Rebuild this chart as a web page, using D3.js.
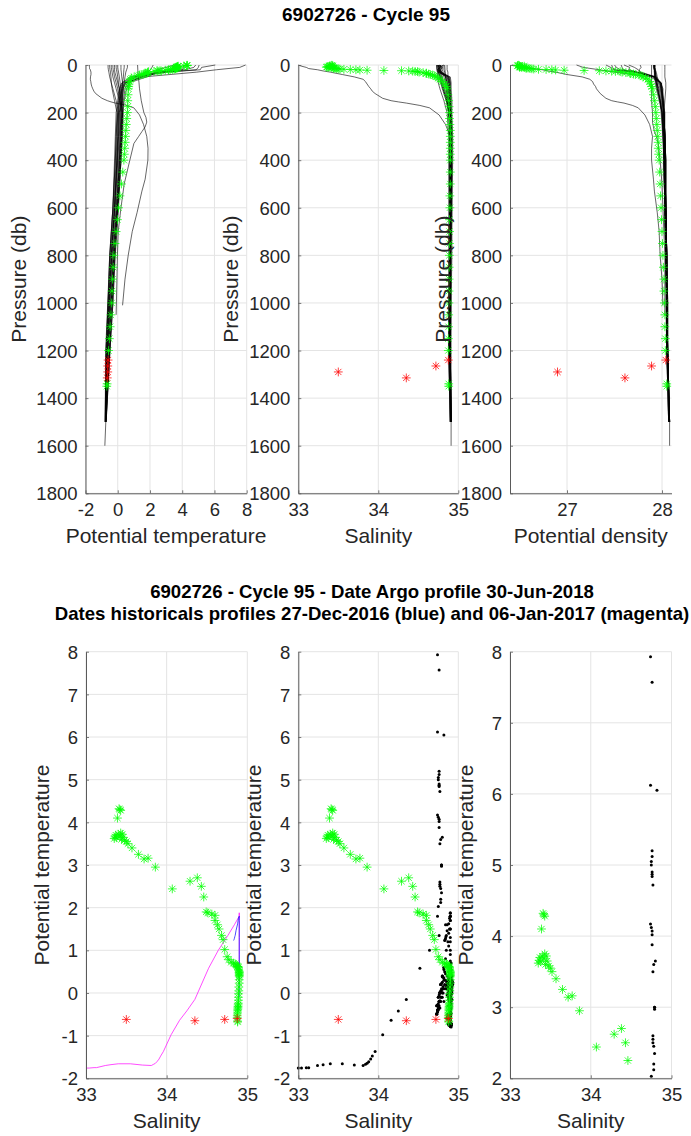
<!DOCTYPE html>
<html><head><meta charset="utf-8">
<script src="https://cdn.jsdelivr.net/npm/d3@7"></script>
<style>
html,body{margin:0;padding:0;background:#fff;}
svg{display:block;font-family:"Liberation Sans",Arial,Helvetica,sans-serif;}
</style></head><body>
<svg id="chart" width="691" height="1136"></svg>
<script>
// ---------------- DATA ----------------
const titleTop = "6902726 - Cycle 95";
const titleBottom = ["6902726 - Cycle 95 - Date Argo profile 30-Jun-2018",
  "Dates historicals profiles 27-Dec-2016 (blue) and 06-Jan-2017 (magenta)"];

const tempTicks = [-2, 0, 2, 4, 6, 8];
const salTicks = [33, 34, 35];
const densTicks = [27, 28];
const presTicks = [0, 200, 400, 600, 800, 1000, 1200, 1400, 1600, 1800];
const thetaTicks = [-2, -1, 0, 1, 2, 3, 4, 5, 6, 7, 8];
const thetaZoomTicks = [2, 3, 4, 5, 6, 7, 8];

// Argo profile (green), pressure in db
const argoPres = [1,2,3,4,5,6,7,8,9,10,11,12,13,14,15,16,17,18,19,20,21,22,23,24,25,26,27,28,
  30,32,34,36,38,40,42,45,50,55,60,70,80,90,100,
  125,150,175,200,225,250,275,300,325,350,375,400,
  450,500,550,600,650,700,750,800,850,900,950,1000,1050,1100,1150,1200,1340,1350];
const argoTheta = [4.30,4.32,4.28,4.10,3.75,3.72,3.70,3.66,3.62,3.64,3.68,3.72,3.65,3.60,3.58,3.55,3.50,3.40,3.25,3.14,3.16,2.95,2.44,2.62,2.70,2.50,2.25,1.90,
  1.88,1.85,1.82,1.70,1.60,1.50,1.35,1.25,1.02,0.85,0.78,0.72,0.70,0.68,0.66,
  0.64,0.62,0.62,0.60,0.56,0.53,0.50,0.48,0.46,0.43,0.41,0.38,
  0.31,0.23,0.14,0.05,-0.02,-0.10,-0.17,-0.24,-0.28,-0.32,-0.35,-0.38,-0.42,-0.47,-0.52,-0.57,-0.66,-0.68];
const argoSal = [33.42,33.41,33.43,33.39,33.43,33.40,33.37,33.36,33.35,33.38,33.42,33.45,33.46,33.44,33.48,33.50,33.52,33.57,33.65,33.72,33.77,33.86,34.07,34.29,34.38,34.43,34.46,34.49,
  34.51,34.56,34.60,34.60,34.63,34.65,34.68,34.70,34.72,34.75,34.77,34.80,34.83,34.85,34.86,
  34.87,34.88,34.885,34.89,34.89,34.895,34.9,34.9,34.9,34.9,34.9,34.9,
  34.9,34.9,34.895,34.895,34.89,34.89,34.89,34.888,34.886,34.885,34.884,34.882,34.88,34.878,34.876,34.875,34.88,34.88];
const argoDens = [26.49,26.48,26.50,26.48,26.55,26.53,26.51,26.50,26.50,26.52,26.55,26.57,26.59,26.57,26.61,26.63,26.65,26.70,26.78,26.84,26.88,26.97,27.18,27.34,27.41,27.47,27.51,27.56,
  27.58,27.62,27.66,27.67,27.70,27.72,27.76,27.78,27.80,27.83,27.85,27.87,27.88,27.89,27.90,
  27.91,27.92,27.93,27.935,27.94,27.945,27.95,27.955,27.96,27.96,27.965,27.97,
  27.975,27.98,27.985,27.99,27.995,28.0,28.005,28.01,28.015,28.02,28.02,28.025,28.03,28.03,28.035,28.035,28.05,28.05];

// Flagged Argo points (red)
const flagPres = [1240, 1265, 1290, 1315];
const flagTheta = [-0.60, -0.62, -0.62, -0.65];
const flagSal = [34.875, 34.72, 33.50, 34.35];
const flagDens = [28.04, 27.89, 26.90, 27.61];

// Historical profiles (black), values at standard levels
const histLevels = [0,10,20,30,50,75,100,150,200,300,400,600,800,1000,1200,1500,1600];
const histTheta = [
  [7.93,7.57,6.12,4.9,1.6,0.5,0.35,0.25,0.15,0.1,0.0,-0.15,-0.35,-0.5,-0.62,-0.75],
  [6.05,5.2,5.12,3.0,1.2,0.4,0.2,0.1,0.05,0.0,-0.05,-0.2,-0.38,-0.52,-0.64,-0.76],
  [5.05,5.0,4.87,2.97,1.0,0.3,0.15,0.05,0.0,-0.05,-0.1,-0.25,-0.45,-0.58,-0.7,-0.77],
  [4.84,4.72,4.17,2.6,0.8,0.25,0.1,0.0,-0.1,-0.15,-0.2,-0.3,-0.5,-0.62,-0.75,-0.78],
  [4.12,4.07,4.02,2.55,1.4,0.6,0.45,0.35,0.3,0.25,0.15,0.0,-0.2,-0.35,-0.5,-0.73],
  [3.88,3.65,3.6,2.5,1.8,0.7,0.55,0.4,0.3,0.25,0.2,0.05,-0.15,-0.3,-0.48,-0.72],
  [3.5,3.0,2.45,2.35,1.5,0.5,0.3,0.2,0.1,0.05,-0.02,-0.18,-0.38,-0.5,-0.64,-0.75],
  [2.2,2.12,2.03,1.8,1.1,0.45,0.25,0.1,0.0,-0.1,-0.15,-0.3,-0.48,-0.6,-0.72,-0.78],
  [-0.4,-0.4,-0.38,-0.35,-0.3,-0.2,-0.1,0.1,0.2,0.15,0.1,-0.05,-0.25,-0.4,-0.55,-0.74],
  [-0.2,-0.2,-0.2,-0.18,-0.1,0.0,0.1,0.2,0.3,0.25,0.2,0.0,-0.2,-0.35,-0.5,-0.73],
  [0.0,0.0,0.02,0.05,0.1,0.15,0.2,0.3,0.35,0.3,0.2,0.02,-0.18,-0.3,-0.48,-0.72],
  [0.2,0.2,0.2,0.22,0.25,0.3,0.3,0.25,0.2,0.15,0.05,-0.1,-0.3,-0.45,-0.6,-0.75],
  [0.4,0.4,0.38,0.37,0.35,0.3,0.25,0.2,0.1,0.05,-0.05,-0.2,-0.4,-0.55,-0.65,-0.75],
  [0.6,0.6,0.55,0.5,0.45,0.4,0.35,0.3,0.25,0.2,0.1,-0.05,-0.25,-0.4,-0.55,-0.74,-0.8],
  [-0.3,-0.3,-0.28,-0.25,-0.2,-0.1,0.0,0.15,0.25,0.2,0.12,-0.08,-0.28,-0.42,-0.58],
  [-0.1,-0.1,-0.08,-0.05,0.0,0.05,0.1,0.2,0.28,0.22,0.15,-0.02,-0.22,-0.38],
  [-0.5,-0.5,-0.48,-0.45,-0.42,-0.4,-0.35,-0.2,-0.05,-0.1,-0.15,-0.3,-0.5,-0.6,-0.72,-0.78],
  [-0.6,-0.6,-0.58,-0.55,-0.5,-0.4,-0.3,-0.1,0.05,0.0,-0.05,-0.2,-0.4,-0.55,-0.68,-0.76]
];
const histSal = [
  [34.74,34.76,34.74,34.76,34.86,34.88,34.89,34.9,34.9,34.91,34.91,34.91,34.9,34.9,34.9,34.91],
  [34.82,34.76,34.76,34.79,34.87,34.88,34.88,34.89,34.9,34.9,34.9,34.9,34.9,34.89,34.89,34.91],
  [34.75,34.75,34.76,34.79,34.85,34.87,34.87,34.88,34.89,34.9,34.9,34.9,34.89,34.89,34.89,34.9],
  [34.76,34.77,34.74,34.77,34.84,34.86,34.86,34.87,34.88,34.89,34.89,34.89,34.89,34.88,34.88,34.9],
  [34.75,34.76,34.76,34.77,34.88,34.9,34.9,34.91,34.91,34.92,34.92,34.92,34.91,34.91,34.9,34.91],
  [34.76,34.8,34.78,34.77,34.9,34.91,34.91,34.92,34.92,34.93,34.93,34.92,34.92,34.91,34.91,34.91],
  [34.77,34.79,34.78,34.79,34.89,34.9,34.9,34.9,34.91,34.91,34.91,34.9,34.9,34.9,34.9,34.91],
  [34.78,34.78,34.75,34.74,34.88,34.89,34.88,34.89,34.89,34.9,34.9,34.89,34.89,34.89,34.88,34.9],
  [34.74,34.74,34.75,34.75,34.76,34.78,34.8,34.85,34.88,34.9,34.9,34.9,34.9,34.9,34.9,34.91],
  [34.76,34.76,34.76,34.77,34.78,34.8,34.82,34.86,34.89,34.9,34.91,34.91,34.9,34.9,34.9,34.91],
  [34.77,34.77,34.77,34.78,34.79,34.81,34.83,34.87,34.9,34.91,34.91,34.91,34.9,34.9,34.9,34.91],
  [34.78,34.78,34.78,34.79,34.8,34.82,34.85,34.88,34.9,34.9,34.9,34.9,34.9,34.9,34.89,34.91],
  [34.8,34.8,34.8,34.81,34.82,34.84,34.86,34.88,34.89,34.9,34.9,34.9,34.9,34.89,34.89,34.91],
  [34.82,34.82,34.82,34.83,34.84,34.86,34.88,34.9,34.91,34.92,34.92,34.91,34.91,34.9,34.9,34.91,34.91],
  [34.73,34.73,34.74,34.75,34.77,34.79,34.81,34.85,34.88,34.9,34.9,34.9,34.9,34.9,34.89],
  [34.75,34.75,34.76,34.76,34.77,34.79,34.81,34.86,34.89,34.9,34.91,34.91,34.9,34.9],
  [34.73,34.73,34.73,34.74,34.74,34.75,34.77,34.82,34.86,34.88,34.88,34.88,34.88,34.88,34.88,34.9],
  [34.86,34.86,34.86,34.87,34.87,34.89,34.89,34.9,34.9,34.9,34.9,34.9,34.9,34.89,34.89,34.9]
];
const histDens = [
  [27.10,27.17,27.34,27.50,27.88,27.98,28.00,28.01,28.02,28.03,28.03,28.04,28.05,28.06,28.06,28.08],
  [27.41,27.46,27.47,27.71,27.92,27.99,28.00,28.01,28.02,28.03,28.03,28.04,28.05,28.05,28.06,28.08],
  [27.47,27.48,27.50,27.71,27.92,27.98,27.99,28.01,28.02,28.03,28.03,28.04,28.05,28.05,28.06,28.07],
  [27.50,27.52,27.56,27.73,27.93,27.98,27.99,28.00,28.02,28.03,28.03,28.04,28.05,28.05,28.05,28.07],
  [27.57,27.58,27.59,27.73,27.91,27.99,28.00,28.01,28.02,28.03,28.03,28.04,28.05,28.06,28.06,28.08],
  [27.60,27.66,27.65,27.74,27.90,27.99,28.00,28.02,28.02,28.03,28.04,28.04,28.05,28.05,28.06,28.08],
  [27.65,27.71,27.75,27.77,27.92,27.99,28.01,28.01,28.03,28.03,28.04,28.04,28.05,28.06,28.06,28.08],
  [27.77,27.78,27.76,27.77,27.94,27.99,27.99,28.01,28.02,28.03,28.04,28.04,28.05,28.05,28.05,28.07],
  [27.92,27.92,27.93,27.93,27.93,27.94,27.95,27.98,28.00,28.02,28.02,28.03,28.04,28.05,28.06,28.08],
  [27.93,27.93,27.93,27.93,27.94,27.95,27.96,27.98,28.00,28.01,28.02,28.03,28.04,28.05,28.06,28.08],
  [27.92,27.92,27.92,27.93,27.93,27.95,27.96,27.98,28.00,28.02,28.02,28.03,28.04,28.04,28.05,28.08],
  [27.92,27.92,27.92,27.92,27.93,27.94,27.97,27.99,28.01,28.02,28.02,28.03,28.04,28.05,28.05,28.08],
  [27.92,27.92,27.92,27.93,27.94,27.96,27.98,28.00,28.01,28.02,28.03,28.04,28.05,28.05,28.06,28.08],
  [27.92,27.92,27.93,27.94,27.95,27.97,27.99,28.01,28.02,28.03,28.04,28.04,28.05,28.05,28.06,28.08,28.08],
  [27.91,27.91,27.92,27.92,27.93,27.94,27.95,27.98,27.99,28.01,28.02,28.03,28.04,28.05,28.05],
  [27.91,27.91,27.92,27.92,27.92,27.94,27.95,27.98,28.00,28.01,28.03,28.04,28.04,28.05],
  [27.92,27.92,27.92,27.93,27.92,27.93,27.94,27.97,28.00,28.02,28.02,28.03,28.04,28.05,28.05,28.07],
  [28.03,28.03,28.03,28.03,28.03,28.04,28.04,28.03,28.02,28.03,28.03,28.04,28.05,28.05,28.06,28.07]
];

// Historical profile 06-Jan-2017 (magenta)
const magPres = [0,5,10,15,20,25,30,40,50,60,70,80,90,100,110,120,140,150,155,160,170,180,210,250,300,350,400,480,530,620,700,800,900,1010];
const magTheta = [-1.76,-1.76,-1.75,-1.75,-1.70,-1.68,-1.66,-1.66,-1.69,-1.70,-1.67,-1.65,-1.61,-1.55,-1.48,-1.37,-0.98,-0.64,-0.42,-0.15,0.58,1.0,1.35,1.6,1.8,1.88,1.87,1.7,1.5,1.2,0.9,0.65,0.45,0.3];
const magSal = [33.0,33.04,33.10,33.13,33.24,33.31,33.40,33.55,33.70,33.81,33.84,33.86,33.88,33.905,33.925,33.96,34.055,34.16,34.25,34.35,34.52,34.64,34.76,34.84,34.9,34.9,34.9,34.9,34.9,34.9,34.9,34.9,34.9,34.9];
const magDens = [26.42,26.50,26.58,26.64,26.74,26.80,26.88,27.00,27.16,27.24,27.27,27.28,27.30,27.31,27.33,27.35,27.41,27.47,27.53,27.60,27.69,27.75,27.82,27.87,27.90,27.89,27.89,27.91,27.92,27.95,27.97,27.98,28.00,28.01];

// Historical profile 27-Dec-2016 (blue)
const bluePres = [0,25,50,75,100,150,200,220,240,260,280,300,330,400,500,600,700,800,900,1050];
const blueTheta = [1.23,1.25,1.28,1.32,1.35,1.46,1.62,1.75,1.8,1.7,1.5,1.3,1.0,0.75,0.4,0.2,0.03,-0.02,-0.05,-0.1];
const blueSal = [34.83,34.835,34.84,34.845,34.85,34.86,34.88,34.89,34.9,34.9,34.9,34.9,34.9,34.9,34.9,34.9,34.9,34.9,34.9,34.9];
const blueDens = [27.89,27.89,27.89,27.89,27.89,27.89,27.90,27.90,27.90,27.91,27.92,27.94,27.96,27.98,28.00,28.01,28.02,28.03,28.03,28.03];

// ---------------- DRAWING ----------------
const svg = d3.select("#chart");
const TXT = "#262626", AX = "#5a5a5a", GRID = "#e4e4e4";
const FS_TICK = 18.5, FS_LAB = 21, FS_TITLE = 19;

function star(g, pts, color, r) {
  const d = r * 0.7071;
  const p = `M${-r},0H${r}M0,${-r}V${r}M${-d},${-d}L${d},${d}M${-d},${d}L${d},${-d}`;
  g.selectAll(null).data(pts).enter().append("path")
    .attr("d", p).attr("transform", q => `translate(${q[0]},${q[1]})`)
    .attr("fill", "none").attr("stroke", color).attr("stroke-width", 0.75);
}

function frame(x, y, xt, yt, xlab, ylab, ylabOff) {
  const g = svg.append("g");
  const [x0, x1] = x.range(), [yb, yt0] = y.range();
  const grid = g.append("g");
  xt.forEach(t => grid.append("line").attr("x1", x(t)).attr("x2", x(t)).attr("y1", Math.min(yb, yt0)).attr("y2", Math.max(yb, yt0)).attr("stroke", GRID).attr("stroke-width", 1));
  yt.forEach(t => grid.append("line").attr("x1", x0).attr("x2", x1).attr("y1", y(t)).attr("y2", y(t)).attr("stroke", GRID).attr("stroke-width", 1));
  const data = g.append("g");
  const axes = g.append("g");
  const ybot = Math.max(yb, yt0), ytop = Math.min(yb, yt0);
  const ax = axes.append("g").attr("transform", `translate(0,${ybot})`)
    .call(d3.axisBottom(x).tickValues(xt).tickSizeInner(-3).tickSizeOuter(0).tickPadding(10).tickFormat(d3.format("d")));
  const ay = axes.append("g").attr("transform", `translate(${x0},0)`)
    .call(d3.axisLeft(y).tickValues(yt).tickSizeInner(-3).tickSizeOuter(0).tickPadding(8).tickFormat(d3.format("d")));
  [ax, ay].forEach(a => {
    a.select(".domain").attr("stroke", AX).attr("stroke-width", 1);
    a.selectAll(".tick line").attr("stroke", AX).attr("stroke-width", 0.8);
    a.selectAll(".tick text").attr("fill", TXT).attr("font-size", FS_TICK).attr("font-family", null);
  });
  ay.selectAll(".tick text").attr("dy", "0.36em");
  ax.selectAll(".tick text").text(d => d < 0 ? "-" + Math.abs(d) : d);
  ay.selectAll(".tick text").text(d => d < 0 ? "-" + Math.abs(d) : d);
  axes.append("text").attr("x", (x0 + x1) / 2).attr("y", ybot + 50).attr("text-anchor", "middle")
    .attr("font-size", FS_LAB).attr("fill", TXT).text(xlab);
  axes.append("text").attr("transform", `translate(${x0 - ylabOff},${(ybot + ytop) / 2}) rotate(-90)`)
    .attr("text-anchor", "middle").attr("font-size", FS_LAB).attr("fill", TXT).text(ylab);
  return data;
}

// Titles
svg.append("text").attr("x", 366).attr("y", 21).attr("text-anchor", "middle")
  .attr("font-weight", "bold").attr("font-size", FS_TITLE).attr("fill", "#000").text(titleTop);
titleBottom.forEach((t, i) => svg.append("text").attr("x", 372).attr("y", 598 + i * 22)
  .attr("text-anchor", "middle").attr("font-weight", "bold").attr("font-size", 18.6).attr("fill", "#000").text(t));

// Top panels
const yP = d3.scaleLinear().domain([0, 1800]).range([65, 493.3]);
const xT = d3.scaleLinear().domain([-2, 8]).range([85.5, 246.7]);
const xS = d3.scaleLinear().domain([33, 35]).range([298.3, 458.3]);
const xD = d3.scaleLinear().domain([26.4, 28.1]).range([510, 671.5]);

function profilePanel(x, xt, xlab, hist, magV, blueV, argoV, flagV) {
  const g = frame(x, yP, xt, presTicks, xlab, "Pressure (db)", 60);
  const line = d3.line().x(d => x(d[0])).y(d => yP(d[1]));
  hist.forEach(row => g.append("path").attr("d", line(row.map((v, i) => [v, histLevels[i]])))
    .attr("fill", "none").attr("stroke", "#000").attr("stroke-width", 0.6));
  g.append("path").attr("d", line(magV.map((v, i) => [v, magPres[i]]))).attr("fill", "none").attr("stroke", "#000").attr("stroke-width", 0.6);
  g.append("path").attr("d", line(blueV.map((v, i) => [v, bluePres[i]]))).attr("fill", "none").attr("stroke", "#000").attr("stroke-width", 0.6);
  star(g, argoV.map((v, i) => [x(v), yP(argoPres[i])]), "#00ff00", 4.4);
  star(g, flagV.map((v, i) => [x(v), yP(flagPres[i])]), "#ff0000", 4.4);
}
profilePanel(xT, tempTicks, "Potential temperature", histTheta, magTheta, blueTheta, argoTheta, flagTheta);
profilePanel(xS, salTicks, "Salinity", histSal, magSal, blueSal, argoSal, flagSal);
profilePanel(xD, densTicks, "Potential density", histDens, magDens, blueDens, argoDens, flagDens);

// Bottom panels
const yTh = d3.scaleLinear().domain([-2, 8]).range([1078.3, 651.7]);
const yTh2 = d3.scaleLinear().domain([2, 8]).range([1078.3, 651.7]);
const xS4 = d3.scaleLinear().domain([33, 35]).range([86, 247.3]);
const xS5 = d3.scaleLinear().domain([33, 35]).range([298.3, 458.3]);
const xS6 = d3.scaleLinear().domain([33, 35]).range([510, 671.5]);

// all historical (S, theta) points
const histTS = [];
histSal.forEach((row, j) => row.forEach((s, i) => histTS.push([s, histTheta[j][i]])));
magSal.forEach((s, i) => histTS.push([s, magTheta[i]]));
blueSal.forEach((s, i) => histTS.push([s, blueTheta[i]]));
const argoTS = argoSal.map((s, i) => [s, argoTheta[i]]);
const flagTS = flagSal.map((s, i) => [s, flagTheta[i]]);

// Panel 4
{
  const g = frame(xS4, yTh, salTicks, thetaTicks, "Salinity", "Potential temperature", 37);
  const line = d3.line().x(d => xS4(d[0])).y(d => yTh(d[1]));
  g.append("path").attr("d", line(magSal.map((s, i) => [s, magTheta[i]]))).attr("fill", "none").attr("stroke", "#ff00ff").attr("stroke-width", 0.7);
  g.append("path").attr("d", line(blueSal.map((s, i) => [s, blueTheta[i]]))).attr("fill", "none").attr("stroke", "#0000ff").attr("stroke-width", 0.7);
  star(g, argoTS.map(p => [xS4(p[0]), yTh(p[1])]), "#00ff00", 4.4);
  star(g, flagTS.map(p => [xS4(p[0]), yTh(p[1])]), "#ff0000", 4.4);
}
// Panel 5
{
  const g = frame(xS5, yTh, salTicks, thetaTicks, "Salinity", "Potential temperature", 37);
  g.selectAll(null).data(histTS).enter().append("circle")
    .attr("cx", p => xS5(p[0])).attr("cy", p => yTh(p[1])).attr("r", 1.5).attr("fill", "#000");
  star(g, argoTS.map(p => [xS5(p[0]), yTh(p[1])]), "#00ff00", 4.4);
  star(g, flagTS.map(p => [xS5(p[0]), yTh(p[1])]), "#ff0000", 4.4);
}
// Panel 6
{
  const g = frame(xS6, yTh2, salTicks, thetaZoomTicks, "Salinity", "Potential temperature", 37);
  const inR = p => p[1] >= 2 && p[1] <= 8;
  g.selectAll(null).data(histTS.filter(inR)).enter().append("circle")
    .attr("cx", p => xS6(p[0])).attr("cy", p => yTh2(p[1])).attr("r", 1.5).attr("fill", "#000");
  star(g, argoTS.filter(inR).map(p => [xS6(p[0]), yTh2(p[1])]), "#00ff00", 4.4);
  star(g, flagTS.filter(inR).map(p => [xS6(p[0]), yTh2(p[1])]), "#ff0000", 4.4);
}
</script></body></html>
